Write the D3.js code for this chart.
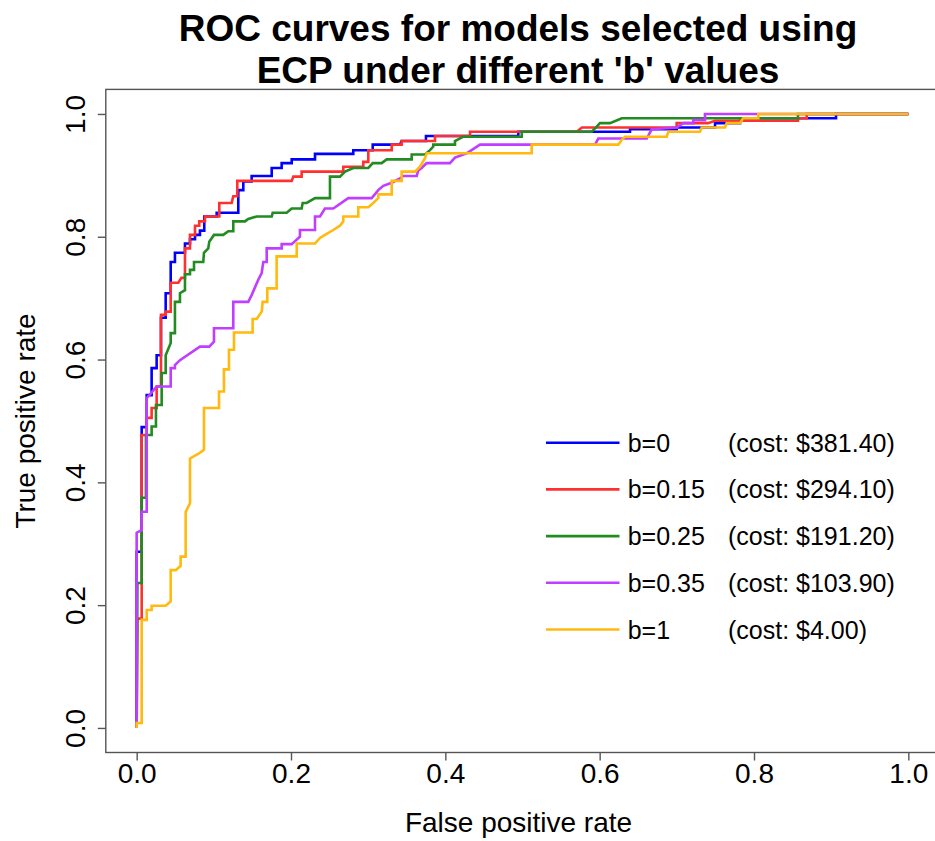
<!DOCTYPE html>
<html>
<head>
<meta charset="utf-8">
<script src="https://d3js.org/d3.v7.min.js"></script>
<style>
  html, body { margin: 0; padding: 0; background: #fff; }
  svg { display: block; }
  text { font-family: "Liberation Sans", Arial, Helvetica, sans-serif; fill: #000; }
</style>
</head>
<body>
<svg id="chart" width="935" height="841"></svg>
<script>
// ---------- data ----------
const titleLines = ["ROC curves for models selected using", "ECP under different 'b' values"];
const xLabel = "False positive rate";
const yLabel = "True positive rate";
const tickValues = [0, 0.2, 0.4, 0.6, 0.8, 1.0];

const seriesNames = ["b=0", "b=0.15", "b=0.25", "b=0.35", "b=1"];
const seriesCosts = ["(cost: $381.40)", "(cost: $294.10)", "(cost: $191.20)", "(cost: $103.90)", "(cost: $4.00)"];
const seriesColors = ["#0000FF", "#FF3030", "#228B22", "#BF3EFF", "#FFB90F"];

// ROC points [false positive rate, true positive rate]
const rocB0 = [[0,0],[0,0.287],[0.0065,0.287],[0.0065,0.490],[0.013,0.490],[0.013,0.542],[0.0194,0.542],[0.0194,0.586],[0.0259,0.586],[0.0259,0.607],[0.0315,0.607],[0.0315,0.668],[0.0376,0.668],[0.0376,0.708],[0.0441,0.708],[0.0441,0.759],[0.0496,0.759],[0.0496,0.774],[0.0626,0.774],[0.0626,0.789],[0.0691,0.789],[0.0691,0.796],[0.0756,0.796],[0.0756,0.803],[0.082,0.803],[0.082,0.810],[0.0876,0.810],[0.0876,0.833],[0.1037,0.833],[0.1037,0.839],[0.1317,0.839],[0.1317,0.876],[0.1382,0.876],[0.1382,0.890],[0.149,0.890],[0.149,0.899],[0.175,0.899],[0.175,0.912],[0.1879,0.912],[0.1879,0.920],[0.2009,0.920],[0.2009,0.926],[0.2311,0.926],[0.2311,0.935],[0.2807,0.935],[0.2807,0.941],[0.3059,0.941],[0.3059,0.950],[0.3412,0.950],[0.3434,0.956],[0.3749,0.956],[0.3749,0.964],[0.4946,0.964],[0.4946,0.971],[0.6393,0.971],[0.6393,0.975],[0.6998,0.975],[0.6998,0.978],[0.7495,0.978],[0.7495,0.985],[0.7819,0.985],[0.7819,0.989],[0.7858,0.989],[0.7858,0.993],[0.9063,0.993],[0.9063,1],[1,1]];

const rocB015 = [[0,0],[0.001,0.178],[0.0065,0.178],[0.0065,0.477],[0.013,0.477],[0.013,0.505],[0.0194,0.505],[0.0194,0.521],[0.0259,0.521],[0.0259,0.556],[0.0315,0.556],[0.0315,0.673],[0.0376,0.673],[0.0376,0.678],[0.0441,0.678],[0.0441,0.725],[0.054,0.725],[0.058,0.733],[0.0626,0.733],[0.0626,0.781],[0.0691,0.781],[0.0691,0.803],[0.0756,0.803],[0.0756,0.818],[0.0811,0.818],[0.0811,0.825],[0.0885,0.825],[0.0885,0.833],[0.1071,0.833],[0.1071,0.855],[0.1231,0.855],[0.1252,0.866],[0.1304,0.866],[0.1304,0.891],[0.2009,0.891],[0.203,0.898],[0.2138,0.898],[0.2138,0.906],[0.2678,0.906],[0.2678,0.914],[0.2937,0.914],[0.2937,0.922],[0.3002,0.922],[0.3002,0.941],[0.3305,0.941],[0.3305,0.950],[0.3434,0.950],[0.3434,0.956],[0.3866,0.956],[0.3866,0.964],[0.432,0.964],[0.432,0.971],[0.5702,0.971],[0.5771,0.978],[0.6998,0.978],[0.6998,0.985],[0.7404,0.985],[0.7495,0.989],[0.857,0.989],[0.857,0.993],[0.8683,0.993],[0.8683,1],[1,1]];

const rocB025 = [[0,0],[0.001,0.236],[0.0065,0.236],[0.0065,0.375],[0.012,0.375],[0.012,0.477],[0.0194,0.477],[0.0194,0.491],[0.025,0.491],[0.025,0.526],[0.0324,0.526],[0.0324,0.578],[0.0376,0.578],[0.0376,0.607],[0.0441,0.627],[0.0441,0.643],[0.0496,0.643],[0.0496,0.694],[0.0561,0.694],[0.0561,0.708],[0.0626,0.713],[0.0626,0.739],[0.0691,0.739],[0.0691,0.746],[0.0743,0.746],[0.0743,0.759],[0.0863,0.759],[0.0872,0.774],[0.0928,0.781],[0.0941,0.792],[0.1002,0.803],[0.1122,0.803],[0.1187,0.809],[0.1252,0.809],[0.1252,0.825],[0.1404,0.825],[0.1446,0.829],[0.1555,0.833],[0.175,0.833],[0.1763,0.839],[0.1944,0.839],[0.2009,0.846],[0.2138,0.846],[0.2151,0.855],[0.2203,0.855],[0.2311,0.863],[0.2505,0.863],[0.2505,0.898],[0.2635,0.898],[0.27,0.906],[0.2807,0.912],[0.3002,0.912],[0.3059,0.920],[0.3175,0.920],[0.324,0.926],[0.3564,0.926],[0.3564,0.934],[0.3736,0.934],[0.3801,0.941],[0.3844,0.947],[0.3844,0.950],[0.4125,0.950],[0.4125,0.956],[0.4233,0.963],[0.499,0.963],[0.499,0.971],[0.5897,0.971],[0.5953,0.978],[0.6004,0.985],[0.6134,0.985],[0.6286,0.993],[0.857,0.993],[0.857,1],[1,1]];

const rocB035 = [[0,0],[0,0.318],[0.0065,0.322],[0.0065,0.352],[0.013,0.352],[0.013,0.537],[0.0259,0.556],[0.0441,0.556],[0.0441,0.586],[0.0496,0.586],[0.0496,0.591],[0.0561,0.599],[0.082,0.621],[0.0941,0.621],[0.1002,0.629],[0.1002,0.651],[0.1252,0.651],[0.1252,0.694],[0.1446,0.694],[0.149,0.705],[0.1576,0.730],[0.162,0.741],[0.1641,0.759],[0.1685,0.759],[0.1685,0.781],[0.1879,0.781],[0.1879,0.788],[0.2009,0.788],[0.2116,0.800],[0.2116,0.811],[0.2311,0.811],[0.2311,0.833],[0.2376,0.833],[0.244,0.846],[0.2548,0.846],[0.2742,0.863],[0.3046,0.863],[0.3131,0.876],[0.3196,0.883],[0.3305,0.888],[0.3412,0.895],[0.3455,0.899],[0.3629,0.899],[0.3649,0.908],[0.3693,0.912],[0.3758,0.920],[0.406,0.920],[0.4125,0.929],[0.4277,0.936],[0.4449,0.950],[0.594,0.950],[0.5982,0.960],[0.661,0.960],[0.6674,0.975],[0.6998,0.978],[0.7084,0.985],[0.7213,0.985],[0.7213,0.990],[0.7365,0.990],[0.7365,1],[1,1]];

const rocB1 = [[0,0],[0,0.008],[0.0065,0.008],[0.0065,0.176],[0.013,0.176],[0.013,0.192],[0.0194,0.192],[0.0194,0.199],[0.0376,0.199],[0.0441,0.206],[0.0441,0.257],[0.0505,0.257],[0.057,0.264],[0.057,0.279],[0.0635,0.279],[0.0635,0.352],[0.0691,0.366],[0.0691,0.439],[0.0807,0.447],[0.0872,0.453],[0.0872,0.521],[0.1067,0.521],[0.1067,0.548],[0.1131,0.548],[0.1131,0.584],[0.1196,0.584],[0.1196,0.616],[0.1261,0.616],[0.1261,0.644],[0.1503,0.644],[0.1503,0.666],[0.1555,0.666],[0.162,0.678],[0.1633,0.694],[0.1693,0.694],[0.1693,0.716],[0.1814,0.716],[0.1814,0.768],[0.2074,0.768],[0.2074,0.789],[0.2311,0.789],[0.2376,0.798],[0.244,0.803],[0.2548,0.811],[0.2635,0.818],[0.2678,0.825],[0.2678,0.833],[0.2872,0.833],[0.2872,0.848],[0.3002,0.848],[0.3066,0.855],[0.3131,0.863],[0.3131,0.869],[0.3305,0.869],[0.3305,0.891],[0.3434,0.891],[0.3434,0.906],[0.3607,0.906],[0.3672,0.914],[0.3736,0.928],[0.3758,0.936],[0.5119,0.936],[0.5119,0.950],[0.6242,0.950],[0.6286,0.958],[0.6328,0.963],[0.6869,0.963],[0.6889,0.971],[0.73,0.971],[0.7322,0.978],[0.7624,0.978],[0.7646,0.985],[0.7819,0.985],[0.7858,0.993],[0.8056,0.993],[0.8056,1],[1,1]];

const seriesData = [rocB0, rocB015, rocB025, rocB035, rocB1];

// ---------- layout ----------
const svg = d3.select("#chart");
svg.append("rect").attr("width", 935).attr("height", 841).attr("fill", "#fff");

const plot = { left: 105.8, right: 939.2, top: 89.4, bottom: 752.5 };
const x = d3.scaleLinear().domain([-0.04, 1.04]).range([plot.left, plot.right]);
const y = d3.scaleLinear().domain([-0.04, 1.04]).range([plot.bottom, plot.top]);

// frame
svg.append("rect")
  .attr("x", plot.left).attr("y", plot.top)
  .attr("width", plot.right - plot.left).attr("height", plot.bottom - plot.top)
  .attr("fill", "none").attr("stroke", "#555").attr("stroke-width", 1.4);

// x axis
const gx = svg.append("g").attr("transform", `translate(0,${plot.bottom})`)
  .call(d3.axisBottom(x).tickValues(tickValues).tickSize(8).tickPadding(3).tickFormat(d3.format(".1f")));
gx.select(".domain").remove();
gx.selectAll(".tick line").attr("stroke", "#555").attr("stroke-width", 1.4);
gx.selectAll(".tick text").attr("font-size", 28).attr("font-family", "Liberation Sans, Arial, sans-serif").attr("fill", "#000");

// y axis
const gy = svg.append("g").attr("transform", `translate(${plot.left},0)`)
  .call(d3.axisLeft(y).tickValues(tickValues).tickSize(8).tickFormat(d3.format(".1f")));
gy.select(".domain").remove();
gy.selectAll(".tick line").attr("stroke", "#555").attr("stroke-width", 1.4);
gy.selectAll(".tick text")
  .attr("font-size", 28).attr("font-family", "Liberation Sans, Arial, sans-serif").attr("fill", "#000")
  .attr("text-anchor", "middle").attr("x", 0).attr("y", -21).attr("dy", null)
  .attr("transform", "rotate(-90)");

// axis titles
svg.append("text").attr("x", (plot.left + plot.right) / 2 - 4).attr("y", 832)
  .attr("text-anchor", "middle").attr("font-size", 28).text(xLabel);
svg.append("text").attr("transform", `translate(35,${(y(0) + y(1)) / 2}) rotate(-90)`)
  .attr("text-anchor", "middle").attr("font-size", 28).text(yLabel);

// title
titleLines.forEach((t, i) => {
  svg.append("text").attr("x", 518).attr("y", 41 + i * 42)
    .attr("text-anchor", "middle").attr("font-size", 37).attr("font-weight", "bold").text(t);
});

// curves
const line = d3.line().x(d => x(d[0])).y(d => y(d[1]));
seriesData.forEach((data, i) => {
  svg.append("path").datum(data)
    .attr("d", line)
    .attr("fill", "none")
    .attr("stroke", seriesColors[i])
    .attr("stroke-width", 2.6)
    .attr("stroke-linejoin", "miter");
});

// legend
const legendTop = 442.7, legendStep = 46.7;
seriesNames.forEach((name, i) => {
  const yy = legendTop + i * legendStep;
  svg.append("line").attr("x1", 546).attr("x2", 619.5).attr("y1", yy).attr("y2", yy)
    .attr("stroke", seriesColors[i]).attr("stroke-width", 2.6);
  svg.append("text").attr("x", 627.7).attr("y", yy + 9).attr("font-size", 25).text(name);
  svg.append("text").attr("x", 728).attr("y", yy + 9).attr("font-size", 25).text(seriesCosts[i]);
});
</script>
</body>
</html>
